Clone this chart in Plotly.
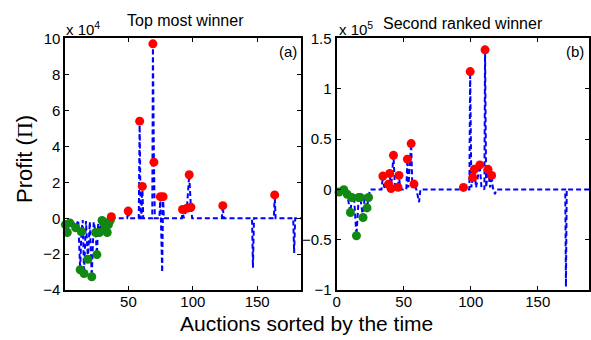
import plotly.graph_objects as go

# ---------------- data ----------------
# Panel (a): profit in units of 1e4
a_line_x = [1, 2.5, 4.5, 6.5, 9, 11, 12.5, 13.5, 14.5, 15.5, 17, 18.5, 20, 21.5, 23, 24.5,
            25.5, 26.5, 27.5, 29.5, 30.5, 32, 33.5, 34.5, 36, 36.7, 38, 49, 49.8, 50.5, 58,
            58.7, 59.5, 60, 60.8, 61.5, 68.5, 69, 69.8, 70.5, 74, 74.8, 76.2, 76.9, 77.5,
            91.5, 92, 93, 95.4, 97.2, 98.5, 99.5, 122.5, 123.3, 124, 146, 146.7, 147.5,
            163, 163.6, 164.3, 178, 178.7, 179.5, 184]
a_line_y = [-0.35, -0.79, -0.26, -0.1, -0.53, -0.1, -2.86, -0.75, -0.1, -3.07, -0.15, -2.28,
            -0.2, -3.25, -0.2, -0.79, -2.02, -0.3, -0.79, -0.12, -0.25, -0.5, -0.79, -0.35,
            -0.1, 0.09, 0, 0, 0.4, 0, 0, 5.4, 0, 0, 1.77, 0, 0, 9.7, 3.12, 0, 0, 1.2, -3.0,
            1.2, 0, 0, 0.49, 0, 0.56, 2.42, 0.61, 0, 0, 0.7, 0, 0, -2.75, 0, 0, 1.3, 0, 0,
            -1.93, 0, 0]
a_green_x = [1, 2.5, 4.5, 9, 13.5, 12.5, 15.5, 21.5, 18.5, 25.5, 24.5, 27.5, 29.5, 30.5, 32,
             33.5, 34.5, 36]
a_green_y = [-0.35, -0.79, -0.26, -0.53, -0.75, -2.86, -3.07, -3.25, -2.28, -2.02, -0.79,
             -0.79, -0.12, -0.25, -0.5, -0.79, -0.35, -0.1]
a_red_x = [36.7, 49.8, 58.7, 60.8, 69, 69.8, 74.8, 76.9, 92, 95.4, 97.2, 98.5, 123.3, 163.6]
a_red_y = [0.09, 0.4, 5.4, 1.77, 9.7, 3.12, 1.2, 1.2, 0.49, 0.56, 2.42, 0.61, 0.7, 1.3]

# Panel (b): profit in units of 1e5
b_line_x = [1.8, 5.4, 7.9, 10.3, 11.4, 13, 14.8, 16.5, 17.7, 19.7, 21, 22.7, 23.8, 25, 33.5,
            34.5, 35.5, 38.7, 39.6, 40.6, 42.4, 43.5, 45.8, 46.5, 47.5, 52, 52.8, 53.5, 55.6,
            56.5, 57.7, 59.5, 61.5, 62.5, 94, 94.6, 95.5, 99, 99.6, 100.5, 101.5, 102.7, 104,
            106.8, 108, 110.2, 110.7, 111.5, 112.9, 114.5, 115.6, 116.5, 118.1, 119, 170.5,
            171, 171.6, 189]
b_line_y = [-0.026, -0.003, -0.047, -0.228, -0.079, -0.07, -0.459, -0.079, -0.079, -0.278,
            -0.06, -0.183, -0.079, 0, 0, 0.133, 0.02, 0.052, 0.159, 0.01, 0.339, 0.02, 0.022,
            0.14, 0, 0, 0.301, 0.02, 0.456, 0.02, 0.054, 0, -0.126, 0, 0, 0.021, 0, 0, 1.171,
            0.02, 0.119, 0.2, 0.02, 0.244, 0.02, 0, 1.387, 0.02, 0.2, 0.02, 0.14, 0.02,
            -0.047, 0, 0, -0.966, 0, 0]
b_green_x = [1.8, 5.4, 7.9, 11.4, 16.5, 17.7, 23.8, 10.3, 19.7, 22.7, 14.8]
b_green_y = [-0.026, -0.003, -0.047, -0.079, -0.079, -0.079, -0.079, -0.228, -0.278, -0.183,
             -0.459]
b_red_x = [34.5, 38.7, 40.6, 39.6, 42.4, 46.5, 45.8, 52.8, 55.6, 57.7, 94.6, 101.5, 102.7,
           106.8, 112.9, 115.6, 99.6, 110.7]
b_red_y = [0.133, 0.052, 0.01, 0.159, 0.339, 0.14, 0.022, 0.301, 0.456, 0.054, 0.021, 0.119,
           0.2, 0.244, 0.2, 0.14, 1.171, 1.387]

a_yticks = [-4, -2, 0, 2, 4, 6, 8, 10]
a_xticks = [50, 100, 150]
b_yticks = [-1, -0.5, 0, 0.5, 1, 1.5]
b_xticks = [0, 50, 100, 150]

# ---------------- figure ----------------
W, H = 591, 340
BLUE = "#0000ff"
RED = "#ff0000"
GREEN = "#118811"
FONT = "Liberation Sans, Arial, sans-serif"

fig = go.Figure()

def add_panel(lx, ly, gx, gy, rx, ry, xa, ya):
    fig.add_trace(go.Scatter(x=lx, y=ly, mode="lines", xaxis=xa, yaxis=ya,
                             line=dict(color=BLUE, width=2, dash="5px,3px"),
                             showlegend=False, hoverinfo="skip", cliponaxis=False))
    fig.add_trace(go.Scatter(x=gx, y=gy, mode="markers", xaxis=xa, yaxis=ya,
                             marker=dict(color=GREEN, size=9, line=dict(width=0)),
                             showlegend=False, cliponaxis=False))
    fig.add_trace(go.Scatter(x=rx, y=ry, mode="markers", xaxis=xa, yaxis=ya,
                             marker=dict(color=RED, size=9, line=dict(width=0)),
                             showlegend=False, cliponaxis=False))

add_panel(a_line_x, a_line_y, a_green_x, a_green_y, a_red_x, a_red_y, "x", "y")
add_panel(b_line_x, b_line_y, b_green_x, b_green_y, b_red_x, b_red_y, "x2", "y2")

ydom = [1 - 296 / H, 1 - 31 / H]
axis_common = dict(showgrid=False, zeroline=False, showline=True, linecolor="black",
                   linewidth=2, mirror="ticks", ticks="inside", ticklen=4,
                   tickcolor="black", tickwidth=1,
                   tickfont=dict(family=FONT, size=15, color="black"))

fig.update_layout(
    width=W, height=H,
    margin=dict(l=0, r=0, t=0, b=0),
    paper_bgcolor="white", plot_bgcolor="white",
    xaxis=dict(domain=[62 / W, 300 / W], range=[1, 184], tickvals=a_xticks,
               anchor="y", ticklabelstandoff=-3, **axis_common),
    yaxis=dict(domain=ydom, range=[-4, 10], tickvals=a_yticks, anchor="x", **axis_common),
    xaxis2=dict(domain=[336 / W, 1.0], range=[0, 188.2], tickvals=b_xticks,
                anchor="y2", ticklabelstandoff=-3, **axis_common),
    yaxis2=dict(domain=ydom, range=[-1, 1.5], tickvals=b_yticks, anchor="x2", **axis_common),
)

def ann(text, x, y, size, xanchor="center", yanchor="middle", angle=0, font=FONT):
    fig.add_annotation(text=text, x=x / W, y=1 - y / H, xref="paper", yref="paper",
                       showarrow=False, xanchor=xanchor, yanchor=yanchor, textangle=angle,
                       font=dict(family=font, size=size, color="black"))

ann("Top most winner", 183, 12, 16)
ann("Second ranked winner", 464, 15, 16)
ann("x 10<sup>4</sup>", 61, 21, 15, xanchor="left")
ann("x 10<sup>5</sup>", 336, 21, 15, xanchor="left")
ann("(a)", 298, 45, 15, xanchor="right")
ann("(b)", 588, 45, 15, xanchor="right")
ann("Profit (<span style='font-family:Liberation Serif'>Π</span>)", 20, 158, 22, angle=-90)
ann("Auctions sorted by the time", 306, 331, 21)

fig.write_html("out.html")
